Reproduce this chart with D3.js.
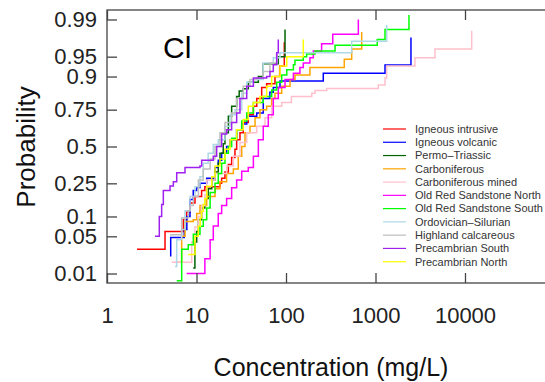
<!DOCTYPE html>
<html>
<head>
<meta charset="utf-8">
<script src="https://cdn.jsdelivr.net/npm/d3@7"></script>
<style>
body { margin: 0; background: #fff; }
text { font-family: "Liberation Sans", Arial, Helvetica, sans-serif; }
</style>
</head>
<body>
<svg id="chart" width="545" height="382"></svg>
<script>

var seriesNames = ["Igneous intrusive", "Igneous volcanic", "Permo\u2013Triassic", "Carboniferous",
    "Carboniferous mined", "Old Red Sandstone North", "Old Red Sandstone South",
    "Ordovician\u2013Silurian", "Highland calcareous", "Precambrian South", "Precambrian North"];

var seriesColors = ["#ff0000", "#0000ff", "#006400", "#ffa500", "#ffc0cb", "#ff00ff",
    "#00ff00", "#add8e6", "#bebebe", "#a020f0", "#ffff00"];

// [concentration mg/L, cumulative probability]
var igneousIntrusive = [[2.16,0.03],[4.45,0.06],[7.12,0.09],[7.77,0.115],[8.46,0.15],[9.62,0.18],[11.4,0.21],
    [12.4,0.23],[18.3,0.25],[19.1,0.28],[20.8,0.32],[22.7,0.37],[24.7,0.42],[26.9,0.48],[28.1,0.55],[30.6,0.6],
    [33.3,0.67],[37.9,0.72],[43.2,0.77],[47.1,0.81],[53.5,0.86],[60.8,0.875],[75.3,0.9],[85,0.93],[95.7,0.972]];

var igneousVolcanic = [[5.15,0.022],[5.15,0.048],[7.3,0.064],[7.8,0.1],[8.46,0.166],[9.2,0.21],[10.05,0.226],
    [11,0.25],[13,0.28],[16.1,0.35],[17.5,0.4],[19.1,0.45],[21.7,0.5],[23.7,0.55],[28.1,0.62],[32,0.66],
    [36.4,0.71],[47.1,0.73],[55.7,0.81],[66,0.84],[72.1,0.86],[85.7,0.885],[261,0.91],[1277,0.932],[2490,0.977]];

var permoTriassic = [[9.2,0.013],[9.6,0.04],[10.05,0.06],[10.5,0.09],[11.4,0.13],[12.4,0.17],[13.5,0.22],
    [14.8,0.27],[16.1,0.32],[17.5,0.38],[18.3,0.45],[19.9,0.52],[20.8,0.6],[22.7,0.71],[24.7,0.77],[28.1,0.82],
    [30,0.845],[33.3,0.855],[37.9,0.88],[49.1,0.9],[55.7,0.935],[82,0.95],[97.5,0.984]];

var carboniferous = [[6.01,0.017],[6.83,0.05],[7.44,0.085],[9.2,0.09],[10.05,0.11],[10.94,0.14],[13,0.18],
    [16.1,0.22],[18.3,0.26],[21.7,0.31],[25.8,0.34],[29.3,0.43],[32,0.5],[34.8,0.6],[39.6,0.645],[45.1,0.7],
    [51.2,0.75],[60.8,0.77],[69.2,0.81],[75.3,0.835],[89.5,0.865],[111,0.89],[126,0.905],[185,0.926],
    [448,0.945],[542,0.963],[701,0.982]];

var carboniferousMined = [[5.28,0.017],[8.84,0.04],[9.6,0.07],[10.5,0.1],[11.4,0.14],[12.4,0.19],[13,0.27],
    [16.1,0.31],[21.7,0.36],[25.8,0.43],[30.6,0.53],[36.4,0.6],[47.1,0.645],[58.2,0.7],[69.2,0.77],[89.5,0.79],
    [115,0.82],[194,0.835],[211,0.848],[285,0.856],[1074,0.87],[1277,0.895],[1334,0.93],[2760,0.948],
    [4620,0.963],[11880,0.983]];

var orsNorth = [[7.77,0.01],[12.4,0.02],[14.2,0.044],[15.4,0.073],[17.5,0.11],[19.1,0.14],[21.7,0.17],
    [24.7,0.225],[28.1,0.27],[32,0.325],[37.9,0.35],[43.2,0.43],[49.1,0.55],[55.7,0.645],[63.4,0.72],
    [72.1,0.81],[82,0.86],[97.5,0.89],[121,0.91],[143,0.926],[156,0.937],[185,0.948],[202,0.96],[250,0.97],
    [333,0.98],[643,0.99]];

var orsSouth = [[6.01,0.007],[6.83,0.03],[8.09,0.036],[9.21,0.054],[10.94,0.072],[11.9,0.09],[13,0.13],
    [14.2,0.2],[16.1,0.25],[17.5,0.31],[19.1,0.38],[20.8,0.45],[22.7,0.5],[24.7,0.56],[28.1,0.62],[32,0.68],
    [36.4,0.73],[43.2,0.79],[55.7,0.82],[69.2,0.85],[78.7,0.88],[89.5,0.905],[102,0.92],[121,0.933],
    [126,0.943],[156,0.95],[170,0.955],[211,0.96],[353,0.968],[1047,0.975],[1277,0.984],[2366,0.992]];

var ordovicianSilurian = [[5.75,0.014],[6.01,0.044],[6.83,0.064],[7.44,0.12],[8.46,0.18],[9.62,0.23],
    [10.94,0.29],[11.9,0.38],[13.5,0.45],[15.4,0.515],[17.5,0.55],[20.8,0.645],[23.7,0.72],[26.9,0.75],
    [32,0.835],[36.4,0.88],[43.2,0.89],[55.7,0.937],[72.1,0.948],[85.7,0.957],[542,0.973],[1334,0.987]];

var highlandCalc = [[5.06,0.053],[6.83,0.095],[8.09,0.12],[8.46,0.14],[9.21,0.18],[10.5,0.27],[11.9,0.34],
    [14.2,0.41],[16.1,0.5],[18.3,0.6],[20.8,0.67],[24.7,0.73],[28.1,0.81],[33.3,0.865],[39.6,0.89],
    [47.1,0.895],[55.7,0.915],[66.2,0.937],[80,0.955]];

var precambrianSouth = [[3.44,0.05],[3.84,0.1],[4.08,0.144],[4.26,0.21],[5.06,0.235],[5.51,0.26],[6.01,0.315],
    [7.44,0.35],[10.94,0.36],[11.43,0.4],[15.4,0.43],[16.8,0.5],[19.1,0.59],[21.7,0.62],[24.7,0.67],
    [28.1,0.73],[30.6,0.81],[36.4,0.865],[43.2,0.895],[60.8,0.9],[66.2,0.915],[72.1,0.933],[78.7,0.957],
    [82,0.975]];

var precambrianNorth = [[8.09,0.024],[9.62,0.05],[10.47,0.072],[11,0.095],[11.4,0.118],[11.9,0.144],
    [12.4,0.17],[13,0.234],[14.8,0.29],[16.1,0.36],[18.3,0.41],[20.8,0.48],[23.7,0.55],[28.1,0.62],
    [33.3,0.69],[37.9,0.77],[43.2,0.79],[51.2,0.82],[60.8,0.865],[69.2,0.9],[85.7,0.93],[102,0.95],
    [156,0.975]];

var allSeries = [igneousIntrusive, igneousVolcanic, permoTriassic, carboniferous, carboniferousMined,
    orsNorth, orsSouth, ordovicianSilurian, highlandCalc, precambrianSouth, precambrianNorth];

var probTicks = [0.01, 0.05, 0.1, 0.25, 0.5, 0.75, 0.9, 0.95, 0.99];
var concTicks = [1, 10, 100, 1000, 10000];

// inverse normal cdf (Acklam) for the probability axis
function qnorm(p) {
    var a = [-39.69683028665376, 220.9460984245205, -275.9285104469687, 138.357751867269, -30.66479806614716, 2.506628277459239],
        b = [-54.47609879822406, 161.5858368580409, -155.6989798598866, 66.80131188771972, -13.28068155288572],
        c = [-0.007784894002430293, -0.3223964580411365, -2.400758277161838, -2.549732539343734, 4.374664141464968, 2.938163982698783],
        d = [0.007784695709041462, 0.3224671290700398, 2.445134137142996, 3.754408661907416];
    var q, r;
    if (p < 0.02425) {
        q = Math.sqrt(-2 * Math.log(p));
        return (((((c[0]*q+c[1])*q+c[2])*q+c[3])*q+c[4])*q+c[5]) / ((((d[0]*q+d[1])*q+d[2])*q+d[3])*q+1);
    }
    if (p > 1 - 0.02425) {
        q = Math.sqrt(-2 * Math.log(1 - p));
        return -(((((c[0]*q+c[1])*q+c[2])*q+c[3])*q+c[4])*q+c[5]) / ((((d[0]*q+d[1])*q+d[2])*q+d[3])*q+1);
    }
    q = p - 0.5;
    r = q * q;
    return (((((a[0]*r+a[1])*r+a[2])*r+a[3])*r+a[4])*r+a[5])*q / (((((b[0]*r+b[1])*r+b[2])*r+b[3])*r+b[4])*r+1);
}

var svg = d3.select("#chart");

// plot box (right edge runs past the picture)
var boxL = 107, boxT = 10, boxR = 554.5, boxB = 283;

var x = d3.scaleLog().domain([1, 1e5]).range([boxL, boxR]);
var y = d3.scaleLinear().domain([-2.5, 2.5]).range([boxB, boxT]);

svg.append("defs").append("clipPath").attr("id", "plotclip")
    .append("rect").attr("x", boxL).attr("y", boxT).attr("width", boxR - boxL).attr("height", boxB - boxT);

var line = d3.line()
    .x(function (d) { return x(d[0]); })
    .y(function (d) { return y(qnorm(d[1])); })
    .curve(d3.curveStepAfter);

svg.append("g").attr("clip-path", "url(#plotclip)")
    .selectAll("path")
    .data(allSeries)
    .enter()
    .append("path")
    .attr("d", line)
    .attr("fill", "none")
    .attr("stroke", function (d, i) { return seriesColors[i]; })
    .attr("stroke-width", 1.5);

// frame
svg.append("rect")
    .attr("x", boxL).attr("y", boxT)
    .attr("width", boxR - boxL).attr("height", boxB - boxT)
    .attr("fill", "none").attr("stroke", "#444").attr("stroke-width", 1.3);

// axes, ticks pointing inward
var yAxis = d3.axisLeft(y)
    .tickValues(probTicks.map(qnorm))
    .tickFormat(function (d, i) { return String(probTicks[i]); })
    .tickSizeInner(-10).tickSizeOuter(0).tickPadding(10);

var xAxis = d3.axisBottom(x)
    .tickValues(concTicks)
    .tickFormat(d3.format("d"))
    .tickSizeInner(-10).tickSizeOuter(0).tickPadding(24);

var xTop = d3.axisTop(x)
    .tickValues(concTicks)
    .tickFormat("")
    .tickSizeInner(-10).tickSizeOuter(0);

function styleAxis(g) {
    g.select(".domain").remove();
    g.selectAll("line").attr("stroke", "#444").attr("stroke-width", 1.3);
    g.selectAll("text").attr("fill", "#222").style("font-size", "22px")
        .style("font-family", "'Liberation Sans', Arial, sans-serif");
}

svg.append("g").attr("transform", "translate(" + boxL + ",0)").call(yAxis).call(styleAxis);
svg.append("g").attr("transform", "translate(0," + boxB + ")").call(xAxis).call(styleAxis);
svg.append("g").attr("transform", "translate(0," + boxT + ")").call(xTop).call(styleAxis);

// titles
svg.append("text")
    .attr("x", 163).attr("y", 58)
    .style("font-size", "30px")
    .attr("fill", "#000")
    .text("Cl");

svg.append("text")
    .attr("x", 331).attr("y", 376)
    .attr("text-anchor", "middle")
    .style("font-size", "25px")
    .attr("fill", "#111")
    .text("Concentration (mg/L)");

svg.append("text")
    .attr("transform", "translate(35,147) rotate(-90)")
    .attr("text-anchor", "middle")
    .style("font-size", "26px")
    .attr("fill", "#111")
    .text("Probability");

// legend
var legend = svg.append("g")
    .selectAll("g")
    .data(seriesNames)
    .enter()
    .append("g")
    .attr("transform", function (d, i) {
        return "translate(383," + (129 + i * 13.27) + ")";
    });

legend.append("line")
    .attr("x1", 0).attr("x2", 23)
    .attr("stroke", function (d, i) { return seriesColors[i]; })
    .attr("stroke-width", 1.2);

legend.append("text")
    .attr("x", 32)
    .attr("dy", ".35em")
    .style("font-size", "11px")
    .attr("fill", "#333")
    .text(function (d) { return d; });

</script>
</body>
</html>
